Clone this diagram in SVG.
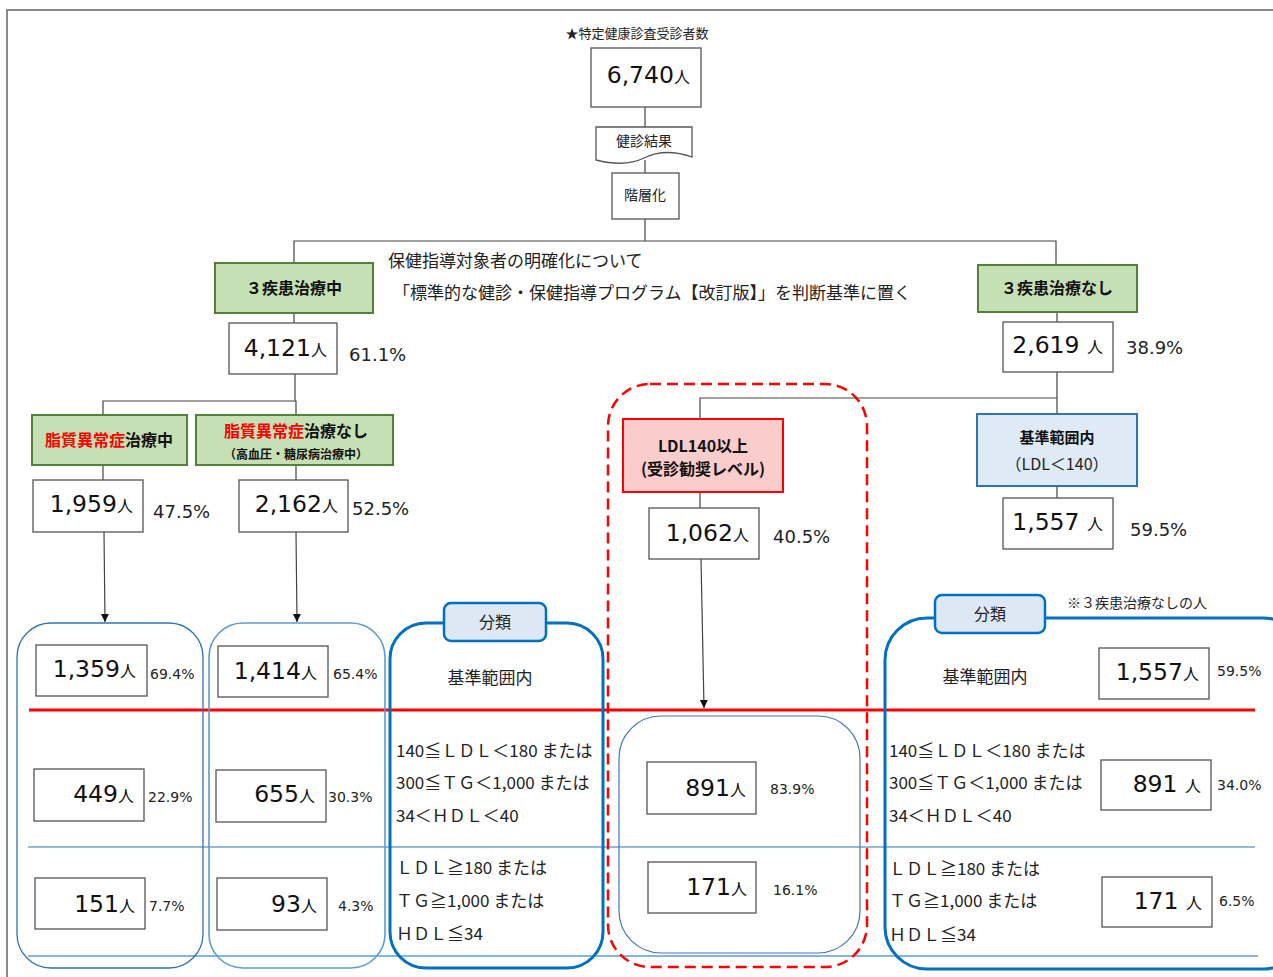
<svg xmlns="http://www.w3.org/2000/svg" width="1273" height="977" viewBox="0 0 1273 977">
<defs>
<style>
.box{fill:#fff;stroke:#555;stroke-width:1.3}
.n{font-family:"DejaVu Sans",Verdana,sans-serif;font-size:23.5px;fill:#111;text-anchor:end}
.u{font-family:"Noto Sans CJK JP",sans-serif;font-size:16px}
.p{font-family:"DejaVu Sans",Verdana,sans-serif;font-size:18px;fill:#222}
.ps{font-family:"DejaVu Sans",Verdana,sans-serif;font-size:14px;fill:#222}
.jp{font-family:"Noto Sans CJK JP",sans-serif;fill:#222}
.jb{font-family:"Noto Sans CJK JP",sans-serif;font-weight:bold;fill:#111}
.c{text-anchor:middle}
.green{fill:#c5e0b4;stroke:#538135;stroke-width:2}
.line{stroke:#444;stroke-width:1.2;fill:none}
.big{fill:none;stroke:#0070c0;stroke-width:3}
.tab{fill:#dce9f5;stroke:#0070c0;stroke-width:2.5}
.red{fill:red}
</style>
<marker id="arr" markerWidth="10" markerHeight="10" refX="8" refY="5" orient="auto" markerUnits="userSpaceOnUse">
<path d="M0,1 L8,5 L0,9 Z" fill="#111"/>
</marker>
</defs>
<rect x="0" y="0" width="1273" height="977" fill="#fff"/>
<path d="M7,977 V10 H1273" fill="none" stroke="#666" stroke-width="1.5"/>

<g id="connectors">
<path class="line" d="M645,107 V127"/>
<path class="line" d="M645,160 V173"/>
<path class="line" d="M645,219 V241"/>
<path class="line" d="M294,263 V241 H1056 V265"/>
<path class="line" d="M294,313 V323"/>
<path class="line" d="M1057,312 V322"/>
<path class="line" d="M295,374 V401"/>
<path class="line" d="M103,415 V401 H296 V415"/>
<path class="line" d="M103,465 V480"/>
<path class="line" d="M296,465 V480"/>
<path class="line" d="M104,532 L105,622" marker-end="url(#arr)"/>
<path class="line" d="M296,532 L297,622" marker-end="url(#arr)"/>
<path class="line" d="M1057,372 V414"/>
<path class="line" d="M700,419 V398 H1057"/>
<path class="line" d="M700,492 V508"/>
<path class="line" d="M1057,486 V498"/>
<path class="line" d="M701,559 L704,708" marker-end="url(#arr)"/>
</g>

<g id="bands">
<line x1="28" y1="847" x2="1255" y2="847" stroke="#2e75b6" stroke-width="1.2"/>
<line x1="28" y1="956" x2="1258" y2="956" stroke="#5b9bd5" stroke-width="1.5"/>
</g>

<g id="top">
<text class="jp c" x="637" y="38" font-size="13">★特定健康診査受診者数</text>
<rect class="box" x="591" y="48" width="110" height="59"/>
<text class="n" x="690" y="83">6,740<tspan class="u">人</tspan></text>
</g>

<g id="doc">
<path d="M596,127 H692 V157 C672,150 656,152 644,158 C630,165 612,164 596,160 Z" fill="#fff" stroke="#555" stroke-width="1.3"/>
<text class="jp c" x="644" y="146" font-size="14">健診結果</text>
</g>

<g id="kaisou">
<rect class="box" x="612" y="173" width="67" height="46"/>
<text class="jp c" x="645" y="200" font-size="14">階層化</text>
</g>

<g id="note">
<text class="jp" x="388" y="267" font-size="17">保健指導対象者の明確化について</text>
<text class="jp" x="393" y="299" font-size="17">「標準的な健診・保健指導プログラム【改訂版】」を判断基準に置く</text>
</g>

<g id="treat">
<rect class="green" x="215" y="263" width="158" height="50"/>
<text class="jb c" x="294" y="294" font-size="16">３疾患治療中</text>
</g>
<g id="n4121">
<rect class="box" x="229" y="323" width="108" height="51"/>
<text class="n" x="327" y="356">4,121<tspan class="u">人</tspan></text>
<text class="p" x="349" y="361">61.1%</text>
</g>

<g id="notreat">
<rect class="green" x="978" y="265" width="159" height="47"/>
<text class="jb c" x="1057" y="294" font-size="16">３疾患治療なし</text>
</g>
<g id="n2619">
<rect class="box" x="1003" y="322" width="110" height="50"/>
<text class="n" x="1103" y="353">2,619 <tspan class="u">人</tspan></text>
<text class="p" x="1126" y="354">38.9%</text>
</g>

<g id="lipid">
<rect class="green" x="32" y="415" width="155" height="50"/>
<text class="jb c" x="109" y="446" font-size="16"><tspan class="red">脂質異常症</tspan>治療中</text>
</g>
<g id="nolipid">
<rect class="green" x="196" y="415" width="197" height="50"/>
<text class="jb c" x="296" y="437" font-size="16"><tspan class="red">脂質異常症</tspan>治療なし</text>
<text class="jb c" x="296" y="459" font-size="12">（高血圧・糖尿病治療中）</text>
</g>
<g id="n1959">
<rect class="box" x="33" y="480" width="110" height="52"/>
<text class="n" x="133" y="512">1,959<tspan class="u">人</tspan></text>
<text class="p" x="153" y="518">47.5%</text>
</g>
<g id="n2162">
<rect class="box" x="239" y="480" width="109" height="52"/>
<text class="n" x="338" y="512">2,162<tspan class="u">人</tspan></text>
<text class="p" x="352" y="515">52.5%</text>
</g>

<g id="ldl">
<rect x="623" y="419" width="160" height="73" fill="#fbcccc" stroke="#ff0000" stroke-width="2"/>
<text class="jb c" x="703" y="452" font-size="16">LDL140以上</text>
<text class="jb c" x="703" y="475" font-size="16">(受診勧奨レベル)</text>
</g>
<g id="n1062">
<rect class="box" x="649" y="508" width="110" height="51"/>
<text class="n" x="749" y="541">1,062<tspan class="u">人</tspan></text>
<text class="p" x="773" y="543">40.5%</text>
</g>

<g id="normal">
<rect x="977" y="414" width="160" height="72" fill="#deebf7" stroke="#2e75b6" stroke-width="2"/>
<text class="jb c" x="1057" y="443" font-size="15">基準範囲内</text>
<text class="jp c" x="1057" y="470" font-size="16">（LDL＜140）</text>
</g>
<g id="n1557a">
<rect class="box" x="1003" y="498" width="110" height="51"/>
<text class="n" x="1103" y="530">1,557 <tspan class="u">人</tspan></text>
<text class="p" x="1130" y="536">59.5%</text>
</g>

<g id="redline">
<line x1="29" y1="710" x2="1255" y2="710" stroke="#ff0000" stroke-width="3"/>
</g>

<g id="col1">
<rect x="17" y="623" width="186" height="345" rx="34" fill="none" stroke="#2e75b6" stroke-width="1.3"/>
<rect class="box" x="36" y="645" width="111" height="51"/>
<text class="n" x="136" y="677">1,359<tspan class="u">人</tspan></text>
<text class="ps" x="150" y="679">69.4%</text>
<rect class="box" x="34" y="769" width="110" height="52"/>
<text class="n" x="134" y="802">449<tspan class="u">人</tspan></text>
<text class="ps" x="148" y="802">22.9%</text>
<rect class="box" x="35" y="878" width="110" height="51"/>
<text class="n" x="135" y="912">151<tspan class="u">人</tspan></text>
<text class="ps" x="149" y="911">7.7%</text>
</g>

<g id="col2">
<rect x="209" y="623" width="176" height="345" rx="34" fill="none" stroke="#5b9bd5" stroke-width="1.6"/>
<rect class="box" x="218" y="646" width="110" height="51"/>
<text class="n" x="317" y="679">1,414<tspan class="u">人</tspan></text>
<text class="ps" x="333" y="679">65.4%</text>
<rect class="box" x="216" y="770" width="110" height="52"/>
<text class="n" x="315" y="802">655<tspan class="u">人</tspan></text>
<text class="ps" x="328" y="802">30.3%</text>
<rect class="box" x="217" y="878" width="110" height="52"/>
<text class="n" x="317" y="912">93<tspan class="u">人</tspan></text>
<text class="ps" x="338" y="911">4.3%</text>
</g>

<g id="class-mid">
<rect class="big" x="390" y="623" width="213" height="345" rx="36"/>
<rect class="tab" x="444" y="603" width="102" height="38" rx="7"/>
<text class="jp c" x="495" y="628" font-size="16">分類</text>
<text class="jp c" x="490" y="684" font-size="17">基準範囲内</text>
<text class="jp" x="396" y="757" font-size="17">140≦ＬＤＬ＜180 または</text>
<text class="jp" x="396" y="789" font-size="17">300≦ＴＧ＜1,000 または</text>
<text class="jp" x="396" y="822" font-size="17">34＜ＨＤＬ＜40</text>
<text class="jp" x="396" y="874" font-size="17">ＬＤＬ≧180 または</text>
<text class="jp" x="396" y="907" font-size="17">ＴＧ≧1,000 または</text>
<text class="jp" x="396" y="940" font-size="17">ＨＤＬ≦34</text>
</g>

<g id="ldl-group">
<rect x="608" y="384" width="259" height="583" rx="42" fill="none" stroke="#ff0000" stroke-width="2.5" stroke-dasharray="11,6"/>
<rect x="619" y="716" width="241" height="237" rx="42" fill="none" stroke="#4472c4" stroke-width="1.2"/>
<rect class="box" x="647" y="762" width="109" height="52"/>
<text class="n" x="746" y="796">891<tspan class="u">人</tspan></text>
<text class="ps" x="770" y="794">83.9%</text>
<rect class="box" x="648" y="862" width="108" height="51"/>
<text class="n" x="747" y="895">171<tspan class="u">人</tspan></text>
<text class="ps" x="773" y="895">16.1%</text>
</g>

<g id="class-right">
<rect class="big" x="885" y="618" width="420" height="351" rx="42"/>
<rect class="tab" x="935" y="595" width="110" height="38" rx="7"/>
<text class="jp c" x="990" y="620" font-size="16">分類</text>
<text class="jp" x="1067" y="608" font-size="14">※３疾患治療なしの人</text>
<text class="jp c" x="985" y="683" font-size="17">基準範囲内</text>
<rect class="box" x="1099" y="648" width="110" height="51"/>
<text class="n" x="1199" y="680">1,557<tspan class="u">人</tspan></text>
<text class="ps" x="1217" y="676">59.5%</text>
<text class="jp" x="889" y="757" font-size="17">140≦ＬＤＬ＜180 または</text>
<text class="jp" x="889" y="789" font-size="17">300≦ＴＧ＜1,000 または</text>
<text class="jp" x="889" y="822" font-size="17">34＜ＨＤＬ＜40</text>
<rect class="box" x="1101" y="760" width="110" height="50"/>
<text class="n" x="1201" y="792">891 <tspan class="u">人</tspan></text>
<text class="ps" x="1217" y="790">34.0%</text>
<text class="jp" x="889" y="875" font-size="17">ＬＤＬ≧180 または</text>
<text class="jp" x="889" y="907" font-size="17">ＴＧ≧1,000 または</text>
<text class="jp" x="889" y="941" font-size="17">ＨＤＬ≦34</text>
<rect class="box" x="1102" y="877" width="110" height="50"/>
<text class="n" x="1202" y="909">171 <tspan class="u">人</tspan></text>
<text class="ps" x="1219" y="906">6.5%</text>
</g>
</svg>
